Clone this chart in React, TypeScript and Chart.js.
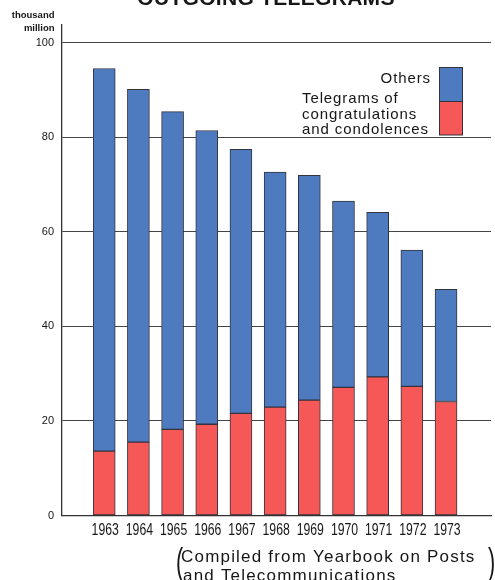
import { useEffect, useRef } from "react";
import { Chart, registerables } from "chart.js";

Chart.register(...registerables);

// ---- data ----
const years = [1963, 1964, 1965, 1966, 1967, 1968, 1969, 1970, 1971, 1972, 1973];
const congratulations = [13.6, 15.5, 18.2, 19.3, 21.6, 22.9, 24.4, 27.1, 29.3, 27.3, 24.1];
const others = [80.9, 74.6, 67.2, 62.1, 55.8, 49.7, 47.5, 39.4, 34.8, 28.8, 23.7];
const yTicks = [0, 20, 40, 60, 80, 100];
const yearLabels = years.map(String);

const titleText = "OUTGOING TELEGRAMS";
const unitLines = ["thousand", "million"];
const legendOthers = "Others";
const legendCongrats = ["Telegrams of", "congratulations", "and condolences"];
const sourceLines = ["Compiled from Yearbook on Posts", "and Telecommunications"];

const BLUE = "#4e7bc0";
const RED = "#f65858";
const INK = "#161616";
const EDGE = "#33333d";
const FONT = '"Liberation Sans", Arial, sans-serif';

const textPlugin = {
  id: "textPlugin",
  afterDraw(chart: any) {
    const ctx: CanvasRenderingContext2D = chart.ctx;
    const area = chart.chartArea;
    const xScale = chart.scales.x;
    ctx.save();
    ctx.fillStyle = INK;

    // title (cut off at top)
    ctx.font = `bold 21px ${FONT}`;
    (ctx as any).letterSpacing = "0.3px";
    ctx.textAlign = "center";
    ctx.textBaseline = "alphabetic";
    ctx.fillText(titleText, 266, 4.5);

    // unit label
    (ctx as any).letterSpacing = "0px";
    ctx.font = `bold 9.5px ${FONT}`;
    ctx.textAlign = "right";
    ctx.fillText(unitLines[0], 54.5, 18);
    ctx.fillText(unitLines[1], 54.5, 30.5);

    // x tick labels (condensed)
    ctx.font = `17px ${FONT}`;
    ctx.textAlign = "center";
    ctx.textBaseline = "middle";
    years.forEach((yr, i) => {
      const px = xScale.getPixelForValue(yr);
      ctx.save();
      ctx.translate(px + 1, area.bottom + 14.5);
      ctx.scale(0.72, 1);
      ctx.fillText(yearLabels[i], 0, 0);
      ctx.restore();
    });

    // legend
    const bx = 439.5, bw = 23;
    ctx.fillStyle = BLUE;
    ctx.fillRect(bx, 67.5, bw, 34);
    ctx.fillStyle = RED;
    ctx.fillRect(bx, 101.5, bw, 33.5);
    ctx.strokeStyle = EDGE;
    ctx.lineWidth = 1;
    ctx.strokeRect(bx, 67.5, bw, 67.5);
    ctx.beginPath();
    ctx.moveTo(bx, 101.5);
    ctx.lineTo(bx + bw, 101.5);
    ctx.stroke();

    ctx.fillStyle = INK;
    ctx.font = `15px ${FONT}`;
    (ctx as any).letterSpacing = "0.9px";
    ctx.textBaseline = "alphabetic";
    ctx.textAlign = "right";
    ctx.fillText(legendOthers, 431, 83);
    ctx.textAlign = "left";
    ctx.fillText(legendCongrats[0], 302, 103);
    ctx.fillText(legendCongrats[1], 302, 118.5);
    ctx.fillText(legendCongrats[2], 302, 134);

    // source caption
    ctx.font = `17px ${FONT}`;
    (ctx as any).letterSpacing = "1.2px";
    ctx.textAlign = "left";
    ctx.fillText(sourceLines[0], 181, 562);
    ctx.fillText(sourceLines[1], 183, 581);

    (ctx as any).letterSpacing = "0px";
    ctx.font = `36px ${FONT}`;
    ctx.save();
    ctx.translate(176, 574);
    ctx.scale(0.6, 1);
    ctx.fillText("(", 0, 0);
    ctx.restore();
    ctx.save();
    ctx.translate(488, 574);
    ctx.scale(0.6, 1);
    ctx.fillText(")", 0, 0);
    ctx.restore();

    ctx.restore();
  },
};

export default function App() {
  const canvasRef = useRef<HTMLCanvasElement | null>(null);

  useEffect(() => {
    if (!canvasRef.current) return;
    Chart.defaults.font.family = FONT;
    const chart = new Chart(canvasRef.current, {
      type: "bar",
      data: {
        datasets: [
          {
            label: legendCongrats.join(" "),
            data: years.map((yr, i) => ({ x: yr, y: congratulations[i] })),
            backgroundColor: RED,
            borderColor: EDGE,
            borderWidth: 1,
            borderSkipped: false,
            barThickness: 22,
          },
          {
            label: legendOthers,
            data: years.map((yr, i) => ({ x: yr, y: others[i] })),
            backgroundColor: BLUE,
            borderColor: EDGE,
            borderWidth: 1,
            borderSkipped: false,
            barThickness: 22,
          },
        ],
      } as any,
      options: {
        responsive: false,
        maintainAspectRatio: false,
        animation: false,
        layout: { padding: { top: 25, right: 4, left: 0, bottom: 0 } },
        plugins: {
          legend: { display: false },
          tooltip: { enabled: false },
          title: { display: false },
        },
        scales: {
          x: {
            type: "linear",
            stacked: true,
            min: 1962.335,
            max: 1973.745,
            grid: { display: false },
            border: { display: true, color: "#333", width: 1.3 },
            ticks: { display: false },
            afterBuildTicks: (scale: any) => {
              scale.ticks = years.map((v) => ({ value: v }));
            },
            afterFit: (scale: any) => {
              scale.height = 64.5;
            },
          },
          y: {
            type: "linear",
            stacked: true,
            min: 0,
            max: 103.7,
            grid: { color: "#444", lineWidth: 1, drawTicks: false },
            border: { display: true, color: "#333", width: 1.3 },
            ticks: {
              color: INK,
              font: { size: 11 },
              padding: 8,
              callback: (v: any) => String(v),
            },
            afterBuildTicks: (scale: any) => {
              scale.ticks = yTicks.map((v) => ({ value: v }));
            },
            afterFit: (scale: any) => {
              scale.width = 62;
            },
          },
        },
      } as any,
      plugins: [textPlugin],
    });
    return () => chart.destroy();
  }, []);

  return (
    <div style={{ position: "absolute", left: 0, top: 0, width: 495, height: 580, background: "#fff" }}>
      <canvas ref={canvasRef} width={495} height={580} style={{ display: "block", width: 495, height: 580 }} />
    </div>
  );
}
